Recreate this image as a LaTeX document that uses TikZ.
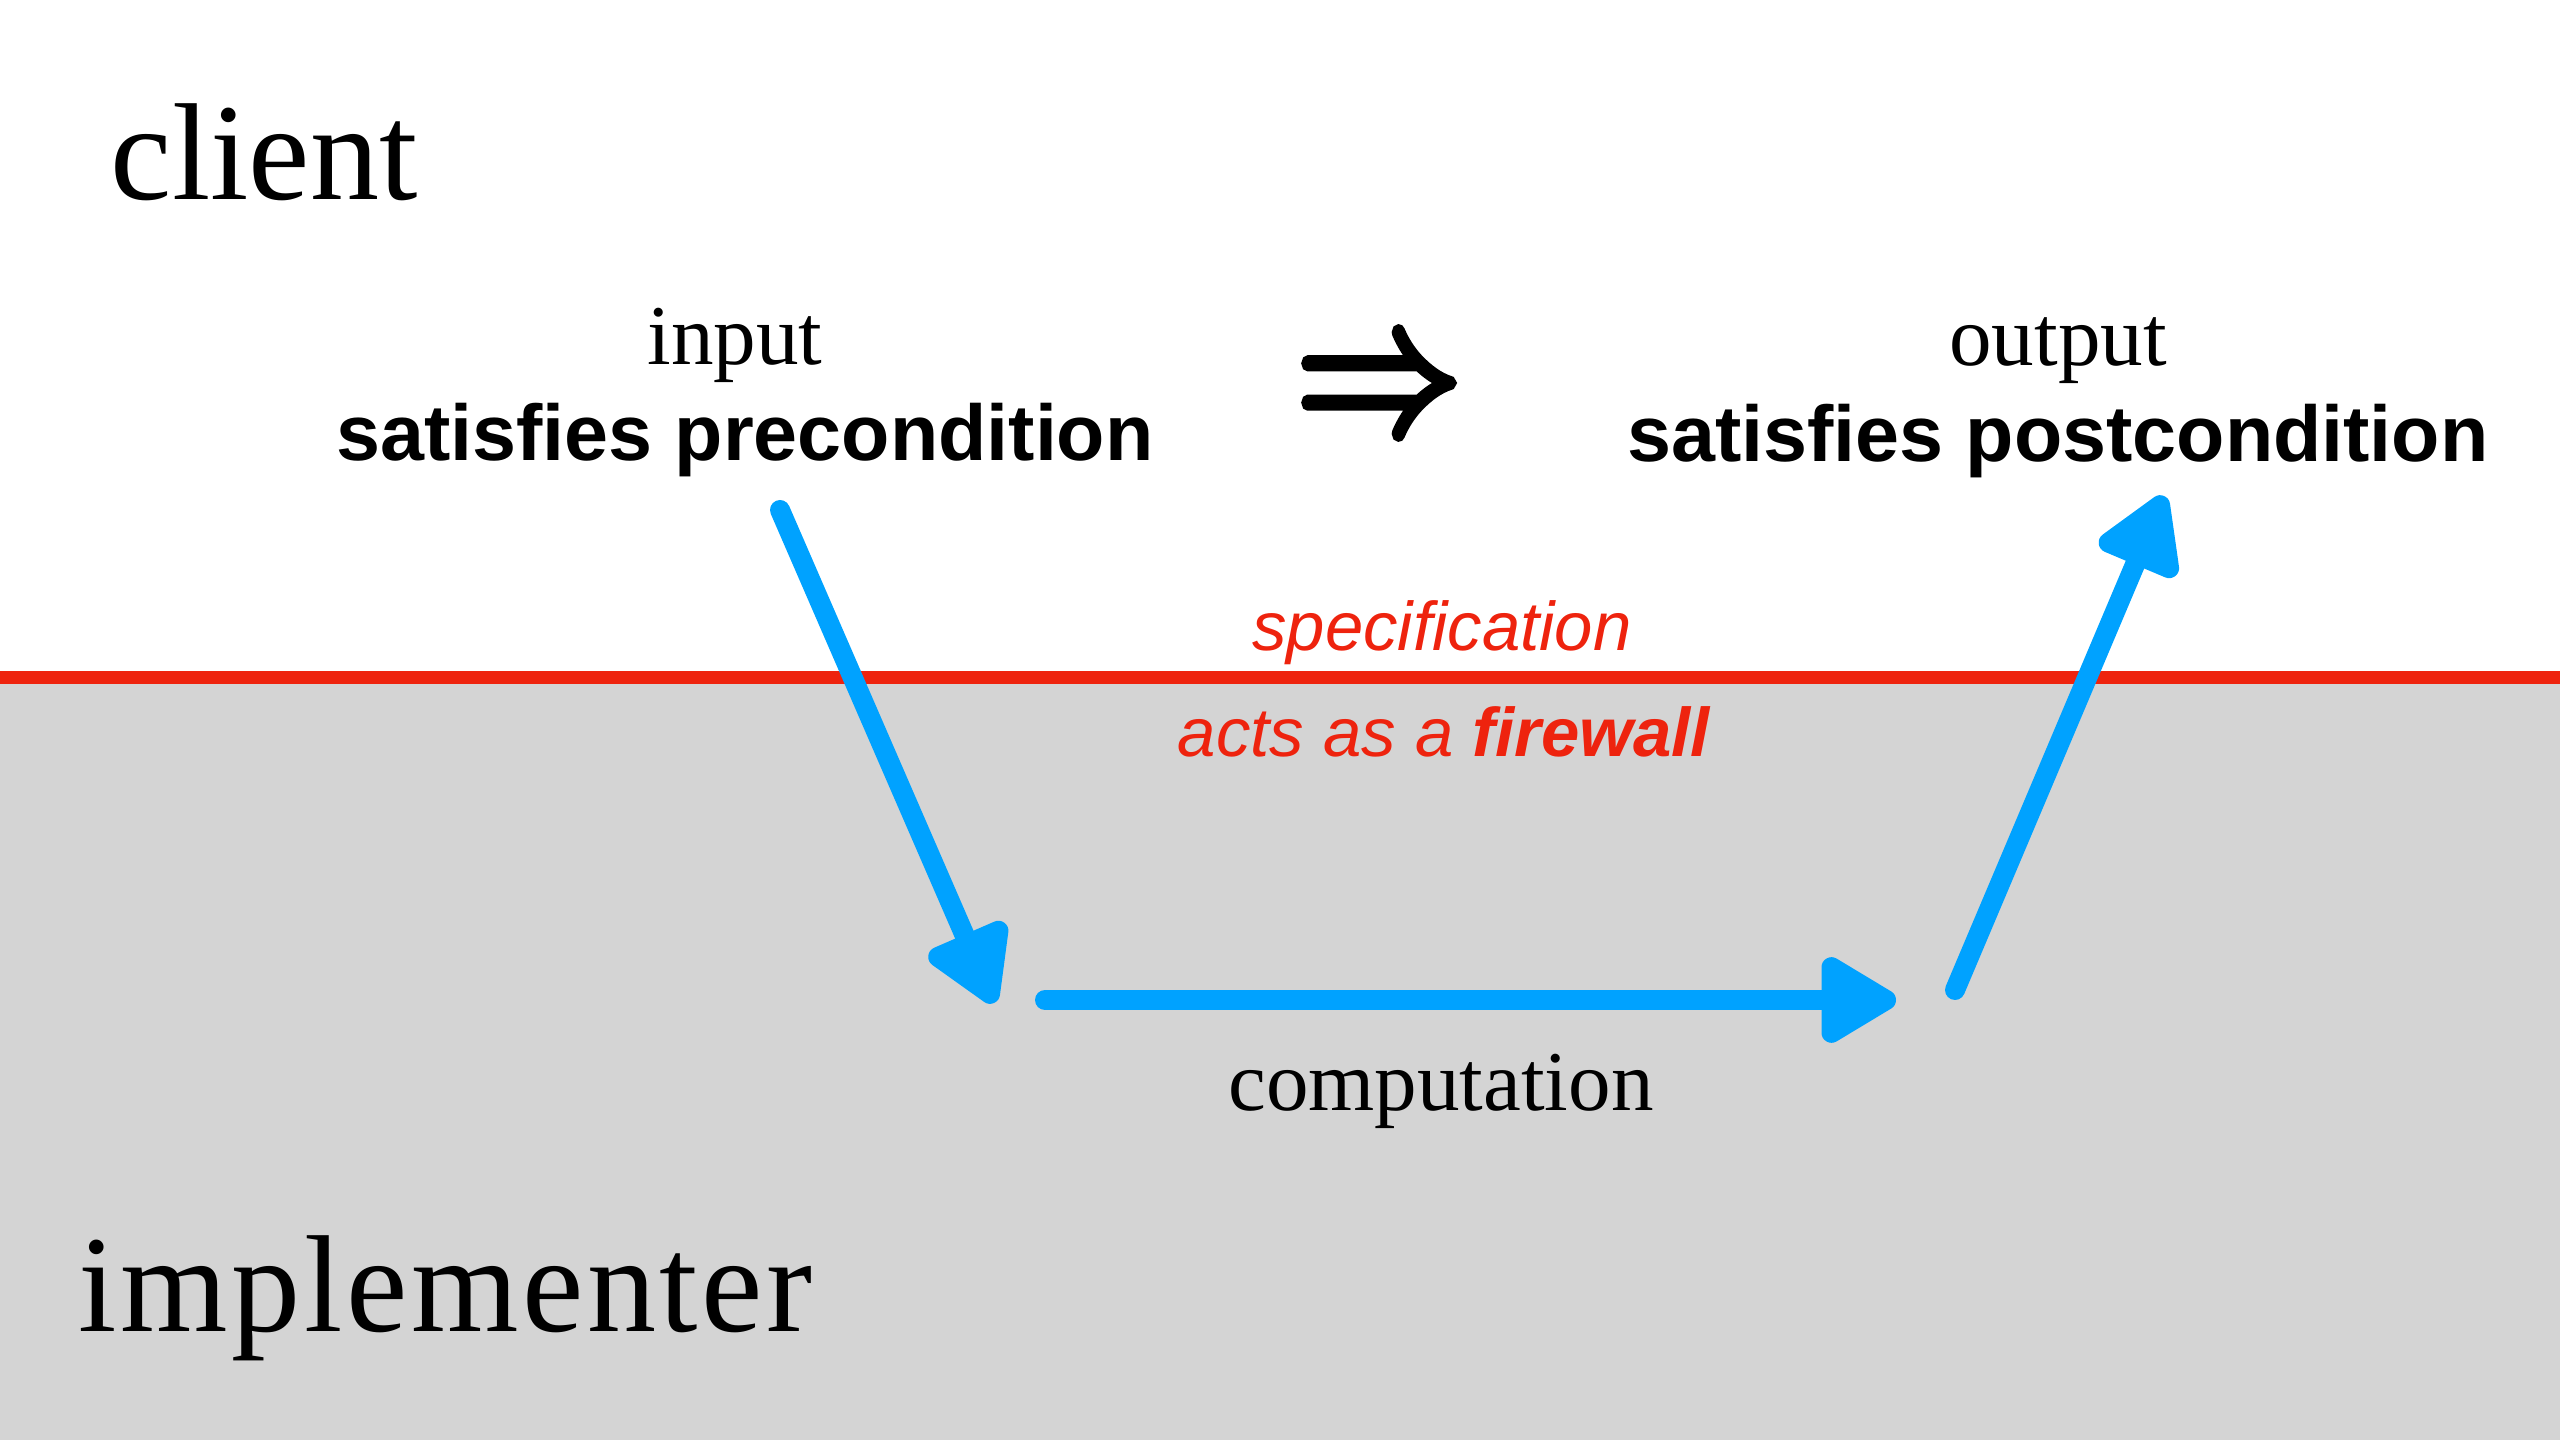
\documentclass[tikz,border=0pt]{standalone}
\usepackage{fontspec}
\setmainfont{Liberation Serif}
\setsansfont{Liberation Sans}
\newfontfamily\arrowfont{latinmodern-math.otf}[FakeBold=4]
\usepackage{amsmath}
\usetikzlibrary{arrows.meta}

\begin{document}
\begin{tikzpicture}[
            bigword/.style = {anchor = base west, inner sep = 0, font = \fontsize{39.3}{44}\selectfont},
            smallword/.style = {anchor = base, inner sep = 0, font = \fontsize{24.2}{28}\selectfont},
            condition/.style = {anchor = base, inner sep = 0, font = \sffamily\bfseries\fontsize{22.5}{26}\selectfont},
            wallnote/.style = {anchor = base, inner sep = 0, text = specRed, font = \sffamily\itshape\fontsize{19.6}{23}\selectfont},
            flow/.style = {flowBlue, line width = 0.2cm, line cap = round, -{Triangle[length = 0.85cm, width = 0.95cm, round]}}
        ]
            %\draw [step = 1 cm, help lines] (0,0) grid (25.6,14.4);
            \definecolor{specRed}{RGB}{238,35,14}
            \definecolor{implGray}{RGB}{212,212,212}
            \definecolor{flowBlue}{RGB}{0,162,255}

            \useasboundingbox (0,0) rectangle (25.6,14.4);
            \fill [implGray] (0,0) rectangle (25.6,7.625);
            \draw [specRed, line width = 0.13cm] (0,7.625) -- (25.6,7.625);

            \node [bigword] (client) at (1.10,12.40) {client};
            \node [bigword, font = \fontsize{39.3}{44}\selectfont\addfontfeature{LetterSpace = 2.6}] (impl) at (0.78,1.08) {implementer};

            \node [smallword] (input) at (7.35,10.75) {input};
            \node [condition] (pre) at (7.45,9.79) {satisfies precondition};
            \node [inner sep = 0, yscale = 1.2, font = \arrowfont\fontsize{48}{52}\selectfont] (implies) at (13.79,10.57) {⇒};
            \node [smallword] (output) at (20.58,10.74) {output};
            \node [condition] (post) at (20.58,9.78) {satisfies postcondition};

            \node [wallnote] (spec) at (14.42,7.89) {specification};
            \node [wallnote] (wall) at (14.44,6.83) {acts as a \textbf{firewall}};
            \node [smallword] (comp) at (14.41,3.29) {computation};

            \coordinate (preOut) at (7.80,9.30);
            \coordinate (compIn) at (9.94,4.37);
            \coordinate (compFrom) at (10.45,4.40);
            \coordinate (compTo) at (18.96,4.40);
            \coordinate (postFrom) at (19.55,4.50);
            \coordinate (postIn) at (21.64,9.44);

            \draw [flow] (preOut) -- (compIn);
            \draw [flow] (compFrom) -- (compTo);
            \draw [flow] (postFrom) -- (postIn);
        \end{tikzpicture}
\end{document}
